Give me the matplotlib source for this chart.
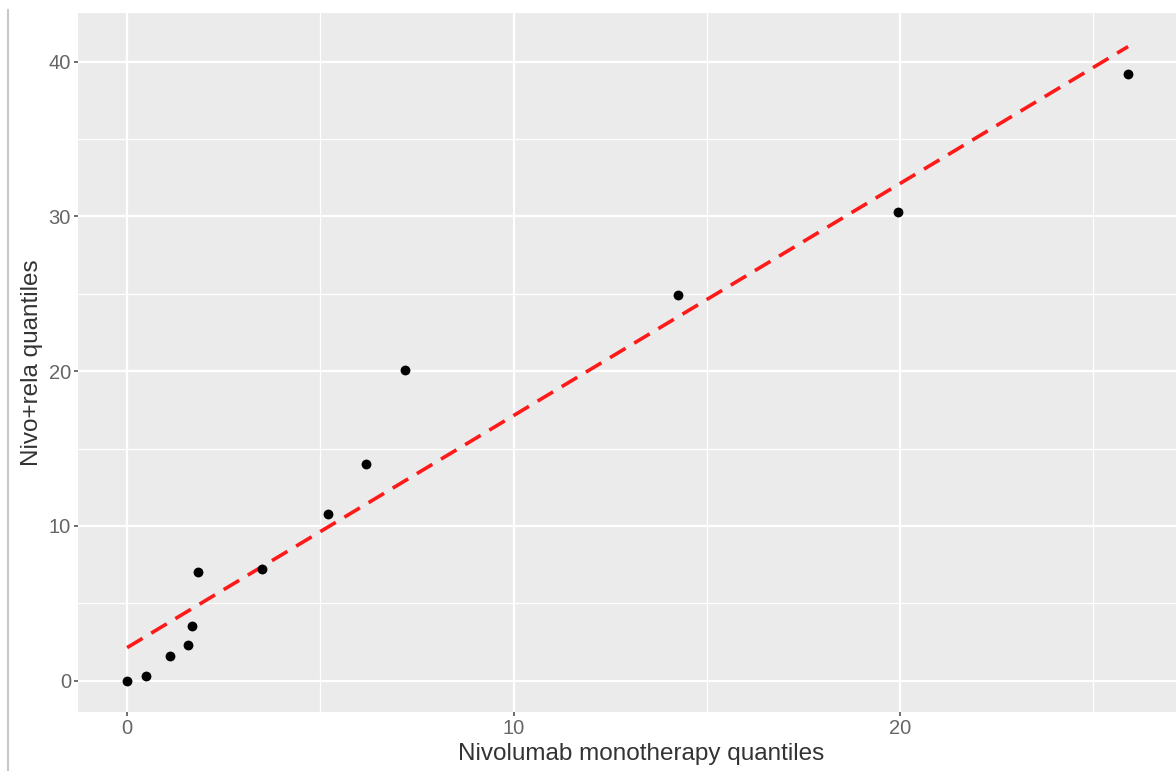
import matplotlib.pyplot as plt
from matplotlib.lines import Line2D

# quantiles
nivo_mono = [0.0, 0.49, 1.11, 1.58, 1.68, 1.84, 3.49, 5.2, 6.18, 7.19, 14.26, 19.95, 25.9]
nivo_rela = [0.0, 0.32, 1.6, 2.3, 3.5, 7.0, 7.2, 10.8, 14.0, 20.1, 24.9, 30.3, 39.2]

# reference line (intercept, slope)
line_coef = [2.13, 1.50]
x_ticks = [0, 10, 20]
y_ticks = [0, 10, 20, 30, 40]

plt.rcParams['font.family'] = ['Liberation Sans', 'DejaVu Sans']

fig = plt.figure(figsize=(11.76, 7.71), dpi=100)
ax = fig.add_axes([78 / 1176, 1 - 712 / 771, 1 - 78 / 1176, (712 - 13) / 771])

ax.set_facecolor('#EBEBEB')
for s in ax.spines.values():
    s.set_visible(False)

ax.set_xlim(-1.27, 27.14)
ax.set_ylim(-2.03, 43.15)

ax.set_xticks(x_ticks)
ax.set_yticks(y_ticks)
ax.set_xticks([5, 15, 25], minor=True)
ax.set_yticks([5, 15, 25, 35], minor=True)
ax.grid(which='major', color='white', lw=1.6)
ax.grid(which='minor', color='white', lw=0.9)
ax.set_axisbelow(True)
ax.tick_params(which='major', length=3, width=1.2, color='#555555',
               labelcolor='#666666', labelsize=14.5, pad=2)
ax.tick_params(which='minor', length=0)

x0 = 0
x1 = max(nivo_mono)
ax.plot([x0, x1], [line_coef[0] + line_coef[1] * x0, line_coef[0] + line_coef[1] * x1],
        color='#FF1A1A', lw=2.6, dashes=(5, 2.8), zorder=2)

ax.scatter(nivo_mono, nivo_rela, s=50, color='black', zorder=3, linewidths=0)

ax.set_xlabel('Nivolumab monotherapy quantiles', fontsize=17.5, color='#333333', labelpad=2)
ax.xaxis.set_label_coords(0.513, -0.045)
ax.set_ylabel('Nivo+rela quantiles', fontsize=17.5, color='#333333', labelpad=4)

# left border line from the original screenshot
fig.add_artist(Line2D([8 / 1176, 8 / 1176], [0, 1 - 10 / 771], transform=fig.transFigure,
                      color='#C8C8C8', lw=1.5))

fig.savefig('out.png', dpi=100)
